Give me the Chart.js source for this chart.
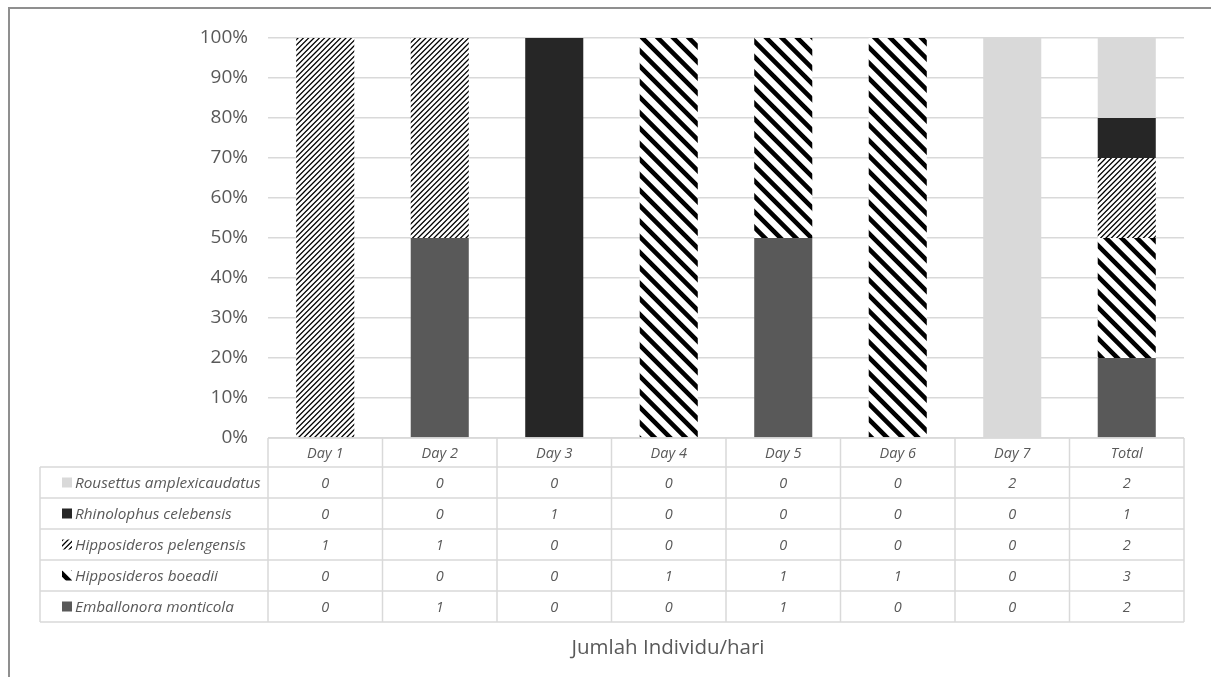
<!DOCTYPE html>
<html>
<head>
<meta charset="utf-8">
<script src="https://cdn.jsdelivr.net/npm/chart.js@4.4.1/dist/chart.umd.min.js"></script>
<style>
  html, body { margin: 0; padding: 0; background: #fff; overflow: hidden; }
  #wrap { position: relative; width: 1211px; height: 677px; }
  #frame { position: absolute; left: 8px; top: 7px; width: 1400px; height: 900px; border: 2px solid #8f8f8f; box-sizing: border-box; pointer-events: none; }
  canvas { position: absolute; left: 0; top: 0; }
</style>
</head>
<body>
<div id="wrap">
  <div id="frame"></div>
  <canvas id="chart" width="1211" height="677"></canvas>
</div>
<script>
// Categories (days of observation plus the overall total)
const categories = ['Day 1', 'Day 2', 'Day 3', 'Day 4', 'Day 5', 'Day 6', 'Day 7', 'Total'];

// Number of individuals caught per species and day
const emballonora  = [0, 1, 0, 0, 1, 0, 0, 2];
const boeadii      = [0, 0, 0, 1, 1, 1, 0, 3];
const pelengensis  = [1, 1, 0, 0, 0, 0, 0, 2];
const rhinolophus  = [0, 0, 1, 0, 0, 0, 0, 1];
const rousettus    = [0, 0, 0, 0, 0, 0, 2, 2];

const speciesNames = [
  'Emballonora monticola',
  'Hipposideros boeadii',
  'Hipposideros pelengensis',
  'Rhinolophus celebensis',
  'Rousettus amplexicaudatus'
];

const yTicks = [0, 10, 20, 30, 40, 50, 60, 70, 80, 90, 100];
const axisTitle = 'Jumlah Individu/hari';

const TEXT = '#595959';
const LINE = '#d9d9d9';
const FONT = '"Open Sans", "Noto Sans", sans-serif';

// Striped fills for the two Hipposideros species
function stripeTile(size, period, width, dir) {
  const c = document.createElement('canvas');
  c.width = size; c.height = size;
  const g = c.getContext('2d');
  g.fillStyle = '#fff';
  g.fillRect(0, 0, size, size);
  g.strokeStyle = '#000';
  g.lineWidth = width;
  g.beginPath();
  for (let k = -3 * size; k <= 3 * size; k += period) {
    if (dir === 'down') {          // "\" stripes
      g.moveTo(-size, -size + k);
      g.lineTo(2 * size, 2 * size + k);
    } else {                       // "/" stripes
      g.moveTo(-size, size + k);
      g.lineTo(2 * size, -2 * size + k);
    }
  }
  g.stroke();
  return g.createPattern(c, 'repeat');
}

const ctx = document.getElementById('chart').getContext('2d');
const wideDown = stripeTile(31, 15.5, 4.6, 'down');
const fineUp = stripeTile(16, 16 / 3, 1.3, 'up');

const counts = [emballonora, boeadii, pelengensis, rhinolophus, rousettus];
const fills = ['#595959', wideDown, fineUp, '#262626', '#d9d9d9'];
const totals = categories.map((_, i) => counts.reduce((s, arr) => s + arr[i], 0));
const toPercent = arr => arr.map((v, i) => totals[i] ? v / totals[i] * 100 : 0);

const datasets = counts.map((arr, k) => ({
  label: speciesNames[k],
  data: toPercent(arr),
  backgroundColor: fills[k],
  borderWidth: 0,
  categoryPercentage: 1,
  barPercentage: 0.507
}));

// Data table beneath the plot: header row holds the axis labels,
// one row per species with its legend key and counts
const dataTable = {
  id: 'dataTable',
  afterDraw(chart) {
    const c = chart.ctx;
    const x = chart.scales.x;
    const area = chart.chartArea;
    const step = x.getPixelForValue(1) - x.getPixelForValue(0);
    const headerH = 29, rowH = 31;
    const tableLeft = 40;
    const top = area.bottom;
    const rowsTop = top + headerH;
    const bottom = rowsTop + rowH * 5;
    const order = [4, 3, 2, 1, 0];

    c.save();
    c.strokeStyle = LINE;
    c.lineWidth = 1.5;
    c.beginPath();
    // top edge of header (axis baseline)
    c.moveTo(area.left, top); c.lineTo(area.right, top);
    // row separators
    for (let r = 0; r <= 5; r++) {
      const y = rowsTop + r * rowH;
      c.moveTo(tableLeft, y); c.lineTo(area.right, y);
    }
    // column separators
    for (let i = 0; i <= categories.length; i++) {
      const xx = area.left + i * step;
      c.moveTo(xx, top); c.lineTo(xx, bottom);
    }
    c.moveTo(tableLeft, rowsTop); c.lineTo(tableLeft, bottom);
    c.stroke();

    c.textBaseline = 'middle';
    order.forEach((k, r) => {
      const cy = rowsTop + r * rowH + rowH / 2;
      // legend key
      c.fillStyle = fills[k];
      c.fillRect(62, cy - 5, 10, 10);
      c.fillStyle = TEXT;
      c.font = 'italic 15.3px ' + FONT;
      c.textAlign = 'left';
      c.fillText(speciesNames[k], 75, cy + 1);
      c.font = 'italic 14.5px ' + FONT;
      c.textAlign = 'center';
      counts[k].forEach((v, i) => {
        c.fillText(String(v), x.getPixelForValue(i), cy + 1);
      });
    });

    // axis title below the table
    c.font = '20.5px ' + FONT;
    c.textAlign = 'center';
    c.fillStyle = TEXT;
    c.fillText(axisTitle, 668, bottom + 26);
    c.restore();
  }
};

new Chart(ctx, {
  type: 'bar',
  data: { labels: categories, datasets },
  plugins: [dataTable],
  options: {
    responsive: false,
    animation: false,
    layout: { padding: { top: 38, right: 27, bottom: 0, left: 0 } },
    plugins: { legend: { display: false }, tooltip: { enabled: false } },
    scales: {
      x: {
        stacked: true,
        grid: { display: false, drawTicks: false },
        border: { display: false },
        ticks: { color: TEXT, font: { family: FONT, size: 14.5, style: 'italic' }, padding: 7, maxRotation: 0 },
        afterFit(scale) { scale.height = 239; }
      },
      y: {
        stacked: true,
        min: 0,
        max: 100,
        afterBuildTicks(scale) { scale.ticks = yTicks.map(v => ({ value: v })); },
        grid: { color: LINE, lineWidth: 1.5, drawTicks: false },
        border: { display: false },
        ticks: {
          color: TEXT,
          padding: 20,
          font: { family: FONT, size: 19 },
          callback: v => v + '%'
        },
        afterFit(scale) { scale.width = 268; }
      }
    }
  }
});
</script>
</body>
</html>
